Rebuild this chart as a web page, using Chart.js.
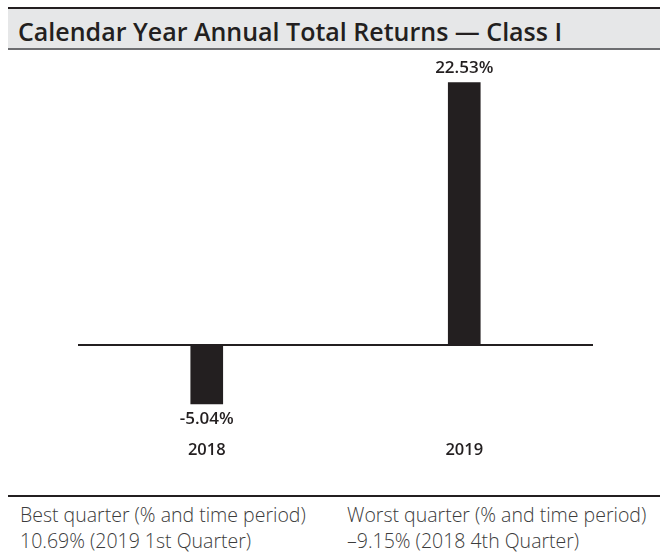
<!DOCTYPE html>
<html>
<head>
<meta charset="utf-8">
<script src="https://cdn.jsdelivr.net/npm/chart.js@4"></script>
<style>
  body { margin: 0; width: 660px; height: 558px; background: #fff; position: relative; font-family: "Open Sans", sans-serif; color: #231f20; overflow: hidden; }
  #titulo { position: absolute; left: 8px; top: 7px; width: 652px; height: 43px; background: #e6e7e8;
            border-top: 2px solid #231f20; border-bottom: 2px solid #6d6e71; box-sizing: border-box; }
  #titulo span { position: absolute; left: 10px; top: 5px; font-size: 25px; line-height: 34px; font-weight: 600; white-space: nowrap; }
  #grafico-box { position: absolute; left: 0; top: 0; width: 660px; height: 480px; }
  #rodape { position: absolute; left: 8px; top: 495px; width: 652px; border-top: 2px solid #231f20; }
  .col { position: absolute; top: 5px; font-size: 19.5px; line-height: 26px; color: #3c3c3c; font-weight: 300; white-space: nowrap; }
</style>
</head>
<body>
<div id="titulo"><span>Calendar Year Annual Total Returns — Class I</span></div>
<div id="grafico-box"><canvas id="grafico-retornos"></canvas></div>
<div id="rodape">
  <div class="col" style="left:12px">Best quarter (% and time period)<br>10.69% (2019 1st Quarter)</div>
  <div class="col" style="left:339px">Worst quarter (% and time period)<br>–9.15% (2018 4th Quarter)</div>
</div>
<script>
// Dados do gráfico
const anos = ['2018', '2019'];
const retornos = [-5.04, 22.53];
const rotulos = ['-5.04%', '22.53%'];

// Plugin para escrever os valores nas pontas das barras
const rotulosBarras = {
  id: 'rotulosBarras',
  afterDatasetsDraw(chart) {
    const ctx = chart.ctx;
    const meta = chart.getDatasetMeta(0);
    ctx.save();
    ctx.font = '600 17px "Open Sans"';
    ctx.fillStyle = '#231f20';
    ctx.textAlign = 'center';
    ctx.textBaseline = 'middle';
    meta.data.forEach((barra, i) => {
      const y = retornos[i] >= 0 ? barra.y - 14 : barra.y + 15;
      ctx.fillText(rotulos[i], barra.x, y);
    });
    ctx.restore();
  }
};

const ctx = document.getElementById('grafico-retornos').getContext('2d');
new Chart(ctx, {
  type: 'bar',
  data: {
    labels: anos,
    datasets: [{
      data: retornos,
      backgroundColor: '#231f20',
      barThickness: 32
    }]
  },
  options: {
    responsive: true,
    maintainAspectRatio: false,
    animation: false,
    layout: { padding: { top: 60, left: 78, right: 67, bottom: 10 } },
    plugins: { legend: { display: false }, tooltip: { enabled: false } },
    scales: {
      x: {
        grid: { display: false, drawTicks: false },
        border: { display: false },
        ticks: { padding: 10, color: '#231f20', font: { family: 'Open Sans', size: 16.5, weight: '600' } }
      },
      y: {
        display: true,
        min: -7.3,
        max: 24.46,
        border: { display: false },
        ticks: { display: false },
        grid: {
          drawTicks: false,
          lineWidth: 2,
          color: c => c.tick.value === 0 ? '#231f20' : 'transparent'
        },
        afterBuildTicks: axis => { axis.ticks = [{ value: 0 }]; }
      }
    }
  },
  plugins: [rotulosBarras]
});
</script>
</body>
</html>
